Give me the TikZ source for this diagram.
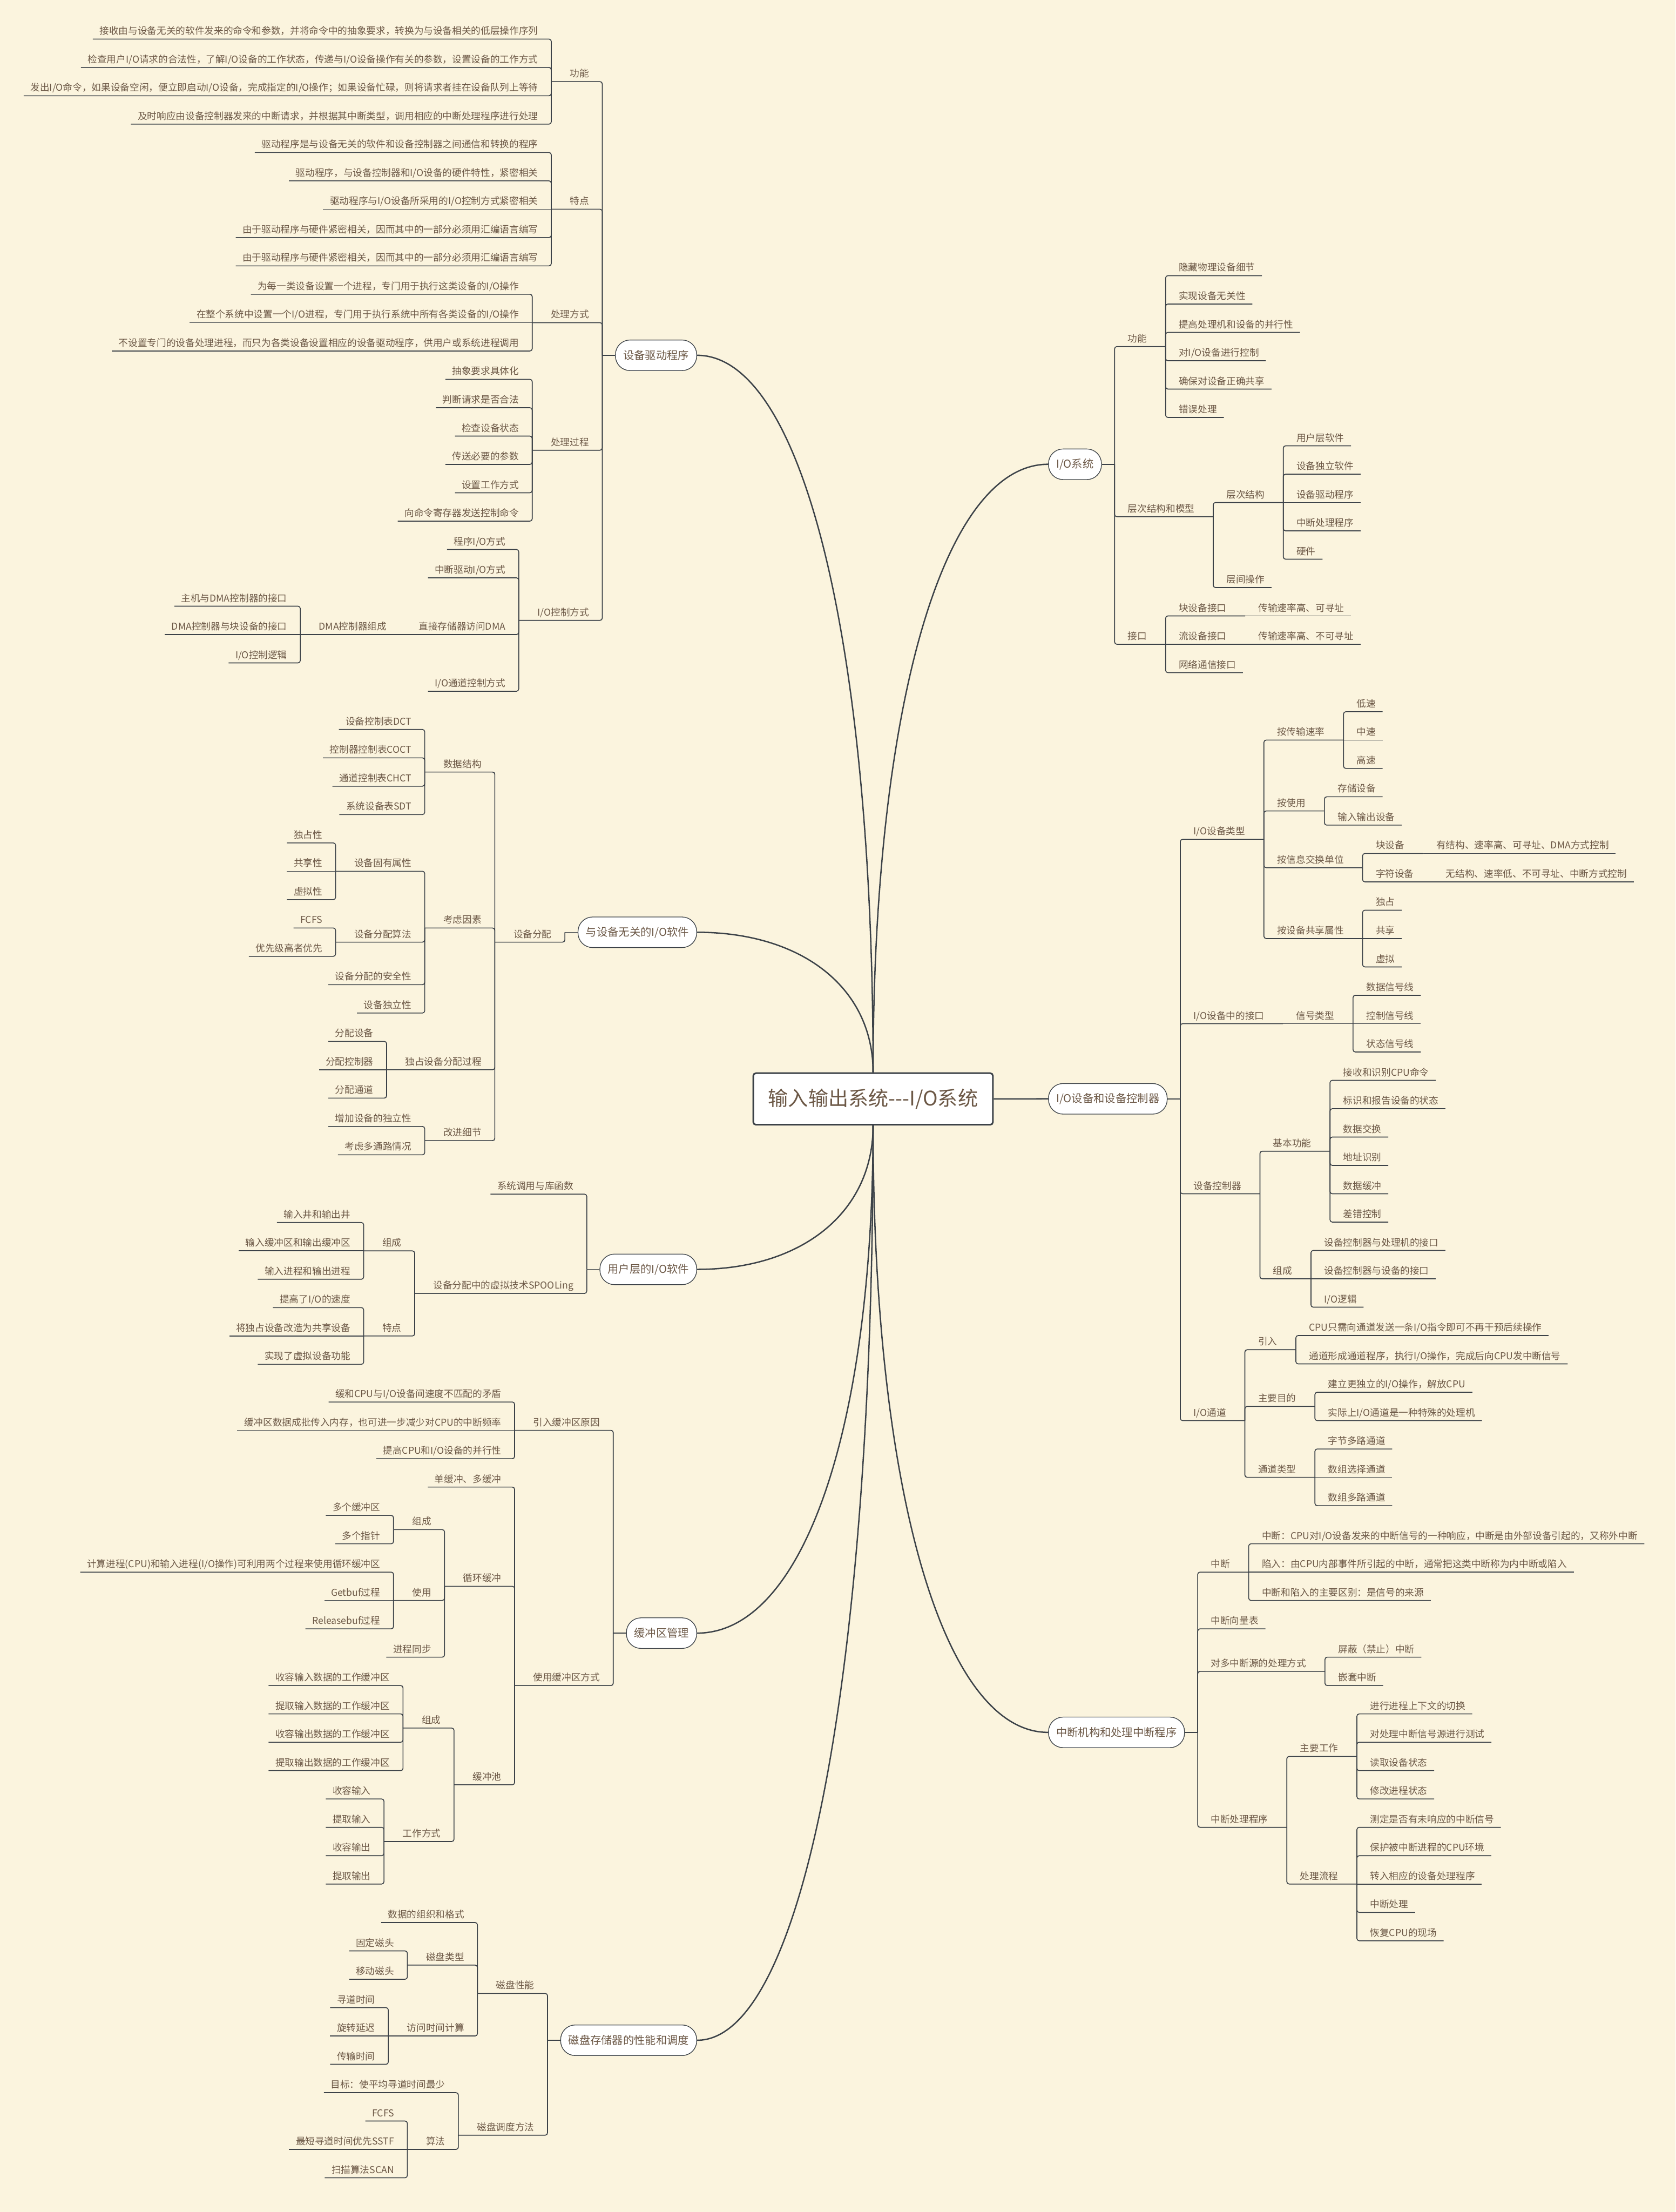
\documentclass[tikz,border=0pt]{standalone}
\usepackage{fontspec}
\setmainfont{Noto Sans CJK SC}
\usepackage{tikz}
\usetikzlibrary{calc}
\usetikzlibrary{positioning}

\definecolor{paper}{RGB}{251,244,222}
\definecolor{inkbrown}{RGB}{108,88,70}
\definecolor{slate}{RGB}{60,66,72}

\newcommand{\leaffont}{\fontsize{5.94}{7}\selectfont}
\newcommand{\branchfont}{\fontsize{6.83}{8}\selectfont}
\newcommand{\rootfont}{\fontsize{12.5}{14}\selectfont}

\begin{document}
\begin{tikzpicture}[
    x=0.0309cm, y=-0.0309cm,
    topic/.style={font=\leaffont, text=inkbrown, inner ysep=0pt, outer sep=0pt, text height=0.17cm, text depth=0.1cm},
    rleaf/.style={topic, inner xsep=0.15cm, anchor=south west, xshift=0.14cm},
    rpar/.style={topic, inner xsep=0.41cm, anchor=south west, xshift=-0.12cm},
    lleaf/.style={topic, inner xsep=0.15cm, anchor=south east, xshift=-0.14cm},
    lpar/.style={topic, inner xsep=0.41cm, anchor=south east, xshift=0.12cm},
    branch/.style={draw=slate, line width=0.45pt, fill=white, rounded corners=0.32cm, minimum height=0.67cm, inner xsep=0.17cm, inner ysep=0pt, font=\branchfont, text=inkbrown},
    root/.style={draw=slate, line width=1pt, fill=white, rounded corners=0.06cm, minimum width=5.25cm, minimum height=1.13cm, font=\rootfont, text=inkbrown},
    conn/.style={slate, line width=0.55pt, rounded corners=0.05cm},
    curve/.style={slate, line width=0.85pt}
]
    \fill[paper] (0,0) rectangle (1188,1568);
    \useasboundingbox (0,0) rectangle (1188,1568);

    % --- Root ---
    \node[root] (io) at (619,779) {输入输出系统-{}-{}-I/O系统};

    % --- Main topics ---
    \node[branch, anchor=east] (drv) at (494.2,251.85)  {设备驱动程序};
    \node[branch, anchor=east] (ind) at (494.2,660.85)  {与设备无关的I/O软件};
    \node[branch, anchor=east] (usr) at (494.2,899.8)   {用户层的I/O软件};
    \node[branch, anchor=east] (buf) at (494.2,1157.65) {缓冲区管理};
    \node[branch, anchor=east] (dsk) at (494.2,1446.25) {磁盘存储器的性能和调度};
    \node[branch, anchor=west] (sys) at (743.1,329.1)   {I/O系统};
    \node[branch, anchor=west] (dev) at (743.1,778.9)   {I/O设备和设备控制器};
    \node[branch, anchor=west] (irq) at (743.1,1228)    {中断机构和处理中断程序};

    \foreach \b in {drv, ind}
        \draw[curve] (io.north) .. controls ($(io.north)!0.6!(io.north |- \b.east)$) and ($(\b.east)!0.6!(io.north |- \b.east)$) .. (\b.east);
    \foreach \b in {usr, buf, dsk}
        \draw[curve] (io.south) .. controls ($(io.south)!0.6!(io.south |- \b.east)$) and ($(\b.east)!0.6!(io.south |- \b.east)$) .. (\b.east);
    \draw[curve] (io.north) .. controls ($(io.north)!0.6!(io.north |- sys.west)$) and ($(sys.west)!0.6!(io.north |- sys.west)$) .. (sys.west);
    \draw[curve] (io.south) .. controls ($(io.south)!0.6!(io.south |- irq.west)$) and ($(irq.west)!0.6!(io.south |- irq.west)$) .. (irq.west);
    \draw[curve] (io.east) -- (dev.west);

    % spines next to the main topics
    \foreach \b in {drv, ind, usr, buf, dsk}
        \coordinate (\b S) at ([xshift=-0.28cm]\b.west);
    \foreach \b in {sys, dev, irq}
        \coordinate (\b S) at ([xshift=0.28cm]\b.east);

    % --- 设备驱动程序 ---
    \node[lpar]  (drvGn)  at (drvS |- 0,57.85) {功能};
    \node[lleaf] (drvGn1) at (drvGn.south west |- 0,27.7) {接收由与设备无关的软件发来的命令和参数，并将命令中的抽象要求，转换为与设备相关的低层操作序列};
    \node[lleaf] (drvGn2) at (drvGn.south west |- 0,47.8) {检查用户I/O请求的合法性，了解I/O设备的工作状态，传递与I/O设备操作有关的参数，设置设备的工作方式};
    \node[lleaf] (drvGn3) at (drvGn.south west |- 0,67.9) {发出I/O命令，如果设备空闲，便立即启动I/O设备，完成指定的I/O操作；如果设备忙碌，则将请求者挂在设备队列上等待};
    \node[lleaf] (drvGn4) at (drvGn.south west |- 0,88.0) {及时响应由设备控制器发来的中断请求，并根据其中断类型，调用相应的中断处理程序进行处理};

    \node[lpar]  (drvTd)  at (drvS |- 0,148.3) {特点};
    \node[lleaf] (drvTd1) at (drvTd.south west |- 0,108.1) {驱动程序是与设备无关的软件和设备控制器之间通信和转换的程序};
    \node[lleaf] (drvTd2) at (drvTd.south west |- 0,128.2) {驱动程序，与设备控制器和I/O设备的硬件特性，紧密相关};
    \node[lleaf] (drvTd3) at (drvTd.south west |- 0,148.3) {驱动程序与I/O设备所采用的I/O控制方式紧密相关};
    \node[lleaf] (drvTd4) at (drvTd.south west |- 0,168.4) {由于驱动程序与硬件紧密相关，因而其中的一部分必须用汇编语言编写};
    \node[lleaf] (drvTd5) at (drvTd.south west |- 0,188.5) {由于驱动程序与硬件紧密相关，因而其中的一部分必须用汇编语言编写};

    \node[lpar]  (drvFs)  at (drvS |- 0,228.7) {处理方式};
    \node[lleaf] (drvFs1) at (drvFs.south west |- 0,208.6) {为每一类设备设置一个进程，专门用于执行这类设备的I/O操作};
    \node[lleaf] (drvFs2) at (drvFs.south west |- 0,228.7) {在整个系统中设置一个I/O进程，专门用于执行系统中所有各类设备的I/O操作};
    \node[lleaf] (drvFs3) at (drvFs.south west |- 0,248.8) {不设置专门的设备处理进程，而只为各类设备设置相应的设备驱动程序，供用户或系统进程调用};

    \node[lpar]  (drvGc)  at (drvS |- 0,319.15) {处理过程};
    \node[lleaf] (drvGc1) at (drvGc.south west |- 0,268.9) {抽象要求具体化};
    \node[lleaf] (drvGc2) at (drvGc.south west |- 0,289.0) {判断请求是否合法};
    \node[lleaf] (drvGc3) at (drvGc.south west |- 0,309.1) {检查设备状态};
    \node[lleaf] (drvGc4) at (drvGc.south west |- 0,329.2) {传送必要的参数};
    \node[lleaf] (drvGc5) at (drvGc.south west |- 0,349.3) {设置工作方式};
    \node[lleaf] (drvGc6) at (drvGc.south west |- 0,369.4) {向命令寄存器发送控制命令};

    \node[lpar]  (drvKz)  at (drvS |- 0,439.75) {I/O控制方式};
    \node[lleaf] (drvKz1) at (drvKz.south west |- 0,389.5) {程序I/O方式};
    \node[lleaf] (drvKz2) at (drvKz.south west |- 0,409.6) {中断驱动I/O方式};
    \node[lpar]  (drvKz3) at (drvKz.south west |- 0,449.8) {直接存储器访问DMA};
    \node[lleaf] (drvKz4) at (drvKz.south west |- 0,490.0) {I/O通道控制方式};
    \node[lpar]  (drvDma)  at (drvKz3.south west |- 0,449.8) {DMA控制器组成};
    \node[lleaf] (drvDma1) at (drvDma.south west |- 0,429.7) {主机与DMA控制器的接口};
    \node[lleaf] (drvDma2) at (drvDma.south west |- 0,449.8) {DMA控制器与块设备的接口};
    \node[lleaf] (drvDma3) at (drvDma.south west |- 0,469.9) {I/O控制逻辑};

    \draw[conn] (drv.west) -- (drvS);
    \foreach \c in {drvGn, drvTd, drvFs, drvGc, drvKz}
        \draw[conn] (drvS) |- (\c.south west);
    \foreach \i in {1,...,4}
        \draw[conn] (drvGn.south west) |- (drvGn\i.south west);
    \foreach \i in {1,2,4,5}
        \draw[conn] (drvTd.south west) |- (drvTd\i.south west);
    \draw[conn] (drvTd.south west) -- (drvTd3.south west);
    \foreach \i in {1,3}
        \draw[conn] (drvFs.south west) |- (drvFs\i.south west);
    \draw[conn] (drvFs.south west) -- (drvFs2.south west);
    \foreach \i in {1,...,6}
        \draw[conn] (drvGc.south west) |- (drvGc\i.south west);
    \foreach \i in {1,...,4}
        \draw[conn] (drvKz.south west) |- (drvKz\i.south west);
    \draw[conn] (drvKz3.south west) -- (drvDma.south west);
    \foreach \i in {1,3}
        \draw[conn] (drvDma.south west) |- (drvDma\i.south west);
    \draw[conn] (drvDma.south west) -- (drvDma2.south west);

    % --- 与设备无关的I/O软件 ---
    \node[lpar]  (indFp)  at (indS |- 0,667.85) {设备分配};
    \node[lpar]  (indSj)  at (indFp.south west |- 0,547.25) {数据结构};
    \node[lleaf] (indSj1) at (indSj.south west |- 0,517.1) {设备控制表DCT};
    \node[lleaf] (indSj2) at (indSj.south west |- 0,537.2) {控制器控制表COCT};
    \node[lleaf] (indSj3) at (indSj.south west |- 0,557.3) {通道控制表CHCT};
    \node[lleaf] (indSj4) at (indSj.south west |- 0,577.4) {系统设备表SDT};
    \node[lpar]  (indKs)  at (indFp.south west |- 0,657.8) {考虑因素};
    \node[lpar]  (indSx)  at (indKs.south west |- 0,617.6) {设备固有属性};
    \node[lleaf] (indSx1) at (indSx.south west |- 0,597.5) {独占性};
    \node[lleaf] (indSx2) at (indSx.south west |- 0,617.6) {共享性};
    \node[lleaf] (indSx3) at (indSx.south west |- 0,637.7) {虚拟性};
    \node[lpar]  (indSf)  at (indKs.south west |- 0,667.85) {设备分配算法};
    \node[lleaf] (indSf1) at (indSf.south west |- 0,657.8) {FCFS};
    \node[lleaf] (indSf2) at (indSf.south west |- 0,677.9) {优先级高者优先};
    \node[lleaf] (indAq)  at (indKs.south west |- 0,698.0) {设备分配的安全性};
    \node[lleaf] (indDl)  at (indKs.south west |- 0,718.1) {设备独立性};
    \node[lpar]  (indGc)  at (indFp.south west |- 0,758.3) {独占设备分配过程};
    \node[lleaf] (indGc1) at (indGc.south west |- 0,738.2) {分配设备};
    \node[lleaf] (indGc2) at (indGc.south west |- 0,758.3) {分配控制器};
    \node[lleaf] (indGc3) at (indGc.south west |- 0,778.4) {分配通道};
    \node[lpar]  (indGj)  at (indFp.south west |- 0,808.55) {改进细节};
    \node[lleaf] (indGj1) at (indGj.south west |- 0,798.5) {增加设备的独立性};
    \node[lleaf] (indGj2) at (indGj.south west |- 0,818.6) {考虑多通路情况};

    \draw[conn] (ind.west) -- (indS);
    \draw[conn] (indS) |- (indFp.south west);
    \foreach \c in {indSj, indKs, indGc, indGj}
        \draw[conn] (indFp.south west) |- (\c.south west);
    \foreach \i in {1,...,4}
        \draw[conn] (indSj.south west) |- (indSj\i.south west);
    \foreach \c in {indSx, indSf, indAq, indDl}
        \draw[conn] (indKs.south west) |- (\c.south west);
    \foreach \i in {1,3}
        \draw[conn] (indSx.south west) |- (indSx\i.south west);
    \draw[conn] (indSx.south west) -- (indSx2.south west);
    \foreach \i in {1,2}
        \draw[conn] (indSf.south west) |- (indSf\i.south west);
    \foreach \i in {1,3}
        \draw[conn] (indGc.south west) |- (indGc\i.south west);
    \draw[conn] (indGc.south west) -- (indGc2.south west);
    \foreach \i in {1,2}
        \draw[conn] (indGj.south west) |- (indGj\i.south west);

    % --- 用户层的I/O软件 ---
    \node[lleaf] (usrDy)  at (usrS |- 0,846.5) {系统调用与库函数};
    \node[lpar]  (usrSp)  at (usrS |- 0,916.85) {设备分配中的虚拟技术SPOOLing};
    \node[lpar]  (usrZc)  at (usrSp.south west |- 0,886.7) {组成};
    \node[lleaf] (usrZc1) at (usrZc.south west |- 0,866.6) {输入井和输出井};
    \node[lleaf] (usrZc2) at (usrZc.south west |- 0,886.7) {输入缓冲区和输出缓冲区};
    \node[lleaf] (usrZc3) at (usrZc.south west |- 0,906.8) {输入进程和输出进程};
    \node[lpar]  (usrTd)  at (usrSp.south west |- 0,947.0) {特点};
    \node[lleaf] (usrTd1) at (usrTd.south west |- 0,926.9) {提高了I/O的速度};
    \node[lleaf] (usrTd2) at (usrTd.south west |- 0,947.0) {将独占设备改造为共享设备};
    \node[lleaf] (usrTd3) at (usrTd.south west |- 0,967.1) {实现了虚拟设备功能};

    \draw[conn] (usr.west) -- (usrS);
    \foreach \c in {usrDy, usrSp}
        \draw[conn] (usrS) |- (\c.south west);
    \foreach \c in {usrZc, usrTd}
        \draw[conn] (usrSp.south west) |- (\c.south west);
    \foreach \i in {1,3}
        \draw[conn] (usrZc.south west) |- (usrZc\i.south west);
    \draw[conn] (usrZc.south west) -- (usrZc2.south west);
    \foreach \i in {1,3}
        \draw[conn] (usrTd.south west) |- (usrTd\i.south west);
    \draw[conn] (usrTd.south west) -- (usrTd2.south west);

    % --- 缓冲区管理 ---
    \node[lpar]  (bufYy)  at (bufS |- 0,1013.9) {引入缓冲区原因};
    \node[lleaf] (bufYy1) at (bufYy.south west |- 0,993.8) {缓和CPU与I/O设备间速度不匹配的矛盾};
    \node[lleaf] (bufYy2) at (bufYy.south west |- 0,1013.9) {缓冲区数据成批传入内存，也可进一步减少对CPU的中断频率};
    \node[lleaf] (bufYy3) at (bufYy.south west |- 0,1034.0) {提高CPU和I/O设备的并行性};
    \node[lpar]  (bufFs)  at (bufS |- 0,1194.8) {使用缓冲区方式};
    \node[lleaf] (bufDd)  at (bufFs.south west |- 0,1054.1) {单缓冲、多缓冲};
    \node[lpar]  (bufXh)  at (bufFs.south west |- 0,1124.45) {循环缓冲};
    \node[lpar]  (bufXz)  at (bufXh.south west |- 0,1084.25) {组成};
    \node[lleaf] (bufXz1) at (bufXz.south west |- 0,1074.2) {多个缓冲区};
    \node[lleaf] (bufXz2) at (bufXz.south west |- 0,1094.3) {多个指针};
    \node[lpar]  (bufXs)  at (bufXh.south west |- 0,1134.5) {使用};
    \node[lleaf] (bufXs1) at (bufXs.south west |- 0,1114.4) {计算进程(CPU)和输入进程(I/O操作)可利用两个过程来使用循环缓冲区};
    \node[lleaf] (bufXs2) at (bufXs.south west |- 0,1134.5) {Getbuf过程};
    \node[lleaf] (bufXs3) at (bufXs.south west |- 0,1154.6) {Releasebuf过程};
    \node[lleaf] (bufXt)  at (bufXh.south west |- 0,1174.7) {进程同步};
    \node[lpar]  (bufHc)  at (bufFs.south west |- 0,1265.15) {缓冲池};
    \node[lpar]  (bufHz)  at (bufHc.south west |- 0,1224.95) {组成};
    \node[lleaf] (bufHz1) at (bufHz.south west |- 0,1194.8) {收容输入数据的工作缓冲区};
    \node[lleaf] (bufHz2) at (bufHz.south west |- 0,1214.9) {提取输入数据的工作缓冲区};
    \node[lleaf] (bufHz3) at (bufHz.south west |- 0,1235.0) {收容输出数据的工作缓冲区};
    \node[lleaf] (bufHz4) at (bufHz.south west |- 0,1255.1) {提取输出数据的工作缓冲区};
    \node[lpar]  (bufHf)  at (bufHc.south west |- 0,1305.35) {工作方式};
    \node[lleaf] (bufHf1) at (bufHf.south west |- 0,1275.2) {收容输入};
    \node[lleaf] (bufHf2) at (bufHf.south west |- 0,1295.3) {提取输入};
    \node[lleaf] (bufHf3) at (bufHf.south west |- 0,1315.4) {收容输出};
    \node[lleaf] (bufHf4) at (bufHf.south west |- 0,1335.5) {提取输出};

    \draw[conn] (buf.west) -- (bufS);
    \foreach \c in {bufYy, bufFs}
        \draw[conn] (bufS) |- (\c.south west);
    \foreach \i in {1,3}
        \draw[conn] (bufYy.south west) |- (bufYy\i.south west);
    \draw[conn] (bufYy.south west) -- (bufYy2.south west);
    \foreach \c in {bufDd, bufXh, bufHc}
        \draw[conn] (bufFs.south west) |- (\c.south west);
    \foreach \c in {bufXz, bufXs, bufXt}
        \draw[conn] (bufXh.south west) |- (\c.south west);
    \foreach \i in {1,2}
        \draw[conn] (bufXz.south west) |- (bufXz\i.south west);
    \foreach \i in {1,3}
        \draw[conn] (bufXs.south west) |- (bufXs\i.south west);
    \draw[conn] (bufXs.south west) -- (bufXs2.south west);
    \foreach \c in {bufHz, bufHf}
        \draw[conn] (bufHc.south west) |- (\c.south west);
    \foreach \i in {1,...,4}
        \draw[conn] (bufHz.south west) |- (bufHz\i.south west);
    \foreach \i in {1,...,4}
        \draw[conn] (bufHf.south west) |- (bufHf\i.south west);

    % --- 磁盘存储器的性能和调度 ---
    \node[lpar]  (dskXn)  at (dskS |- 0,1413.05) {磁盘性能};
    \node[lleaf] (dskZz)  at (dskXn.south west |- 0,1362.8) {数据的组织和格式};
    \node[lpar]  (dskLx)  at (dskXn.south west |- 0,1392.95) {磁盘类型};
    \node[lleaf] (dskLx1) at (dskLx.south west |- 0,1382.9) {固定磁头};
    \node[lleaf] (dskLx2) at (dskLx.south west |- 0,1403.0) {移动磁头};
    \node[lpar]  (dskSj)  at (dskXn.south west |- 0,1443.2) {访问时间计算};
    \node[lleaf] (dskSj1) at (dskSj.south west |- 0,1423.1) {寻道时间};
    \node[lleaf] (dskSj2) at (dskSj.south west |- 0,1443.2) {旋转延迟};
    \node[lleaf] (dskSj3) at (dskSj.south west |- 0,1463.3) {传输时间};
    \node[lpar]  (dskDd)  at (dskS |- 0,1513.55) {磁盘调度方法};
    \node[lleaf] (dskMb)  at (dskDd.south west |- 0,1483.4) {目标：使平均寻道时间最少};
    \node[lpar]  (dskSf)  at (dskDd.south west |- 0,1523.6) {算法};
    \node[lleaf] (dskSf1) at (dskSf.south west |- 0,1503.5) {FCFS};
    \node[lleaf] (dskSf2) at (dskSf.south west |- 0,1523.6) {最短寻道时间优先SSTF};
    \node[lleaf] (dskSf3) at (dskSf.south west |- 0,1543.7) {扫描算法SCAN};

    \draw[conn] (dsk.west) -- (dskS);
    \foreach \c in {dskXn, dskDd}
        \draw[conn] (dskS) |- (\c.south west);
    \foreach \c in {dskZz, dskLx, dskSj}
        \draw[conn] (dskXn.south west) |- (\c.south west);
    \foreach \i in {1,2}
        \draw[conn] (dskLx.south west) |- (dskLx\i.south west);
    \foreach \i in {1,3}
        \draw[conn] (dskSj.south west) |- (dskSj\i.south west);
    \draw[conn] (dskSj.south west) -- (dskSj2.south west);
    \foreach \c in {dskMb, dskSf}
        \draw[conn] (dskDd.south west) |- (\c.south west);
    \foreach \i in {1,3}
        \draw[conn] (dskSf.south west) |- (dskSf\i.south west);
    \draw[conn] (dskSf.south west) -- (dskSf2.south west);

    % --- I/O系统 ---
    \node[rpar]  (sysGn)  at (sysS |- 0,245.65) {功能};
    \node[rleaf] (sysGn1) at (sysGn.south east |- 0,195.4) {隐藏物理设备细节};
    \node[rleaf] (sysGn2) at (sysGn.south east |- 0,215.5) {实现设备无关性};
    \node[rleaf] (sysGn3) at (sysGn.south east |- 0,235.6) {提高处理机和设备的并行性};
    \node[rleaf] (sysGn4) at (sysGn.south east |- 0,255.7) {对I/O设备进行控制};
    \node[rleaf] (sysGn5) at (sysGn.south east |- 0,275.8) {确保对设备正确共享};
    \node[rleaf] (sysGn6) at (sysGn.south east |- 0,295.9) {错误处理};
    \node[rpar]  (sysCc)  at (sysS |- 0,366.25) {层次结构和模型};
    \node[rpar]  (sysJg)  at (sysCc.south east |- 0,356.2) {层次结构};
    \node[rleaf] (sysJg1) at (sysJg.south east |- 0,316.0) {用户层软件};
    \node[rleaf] (sysJg2) at (sysJg.south east |- 0,336.1) {设备独立软件};
    \node[rleaf] (sysJg3) at (sysJg.south east |- 0,356.2) {设备驱动程序};
    \node[rleaf] (sysJg4) at (sysJg.south east |- 0,376.3) {中断处理程序};
    \node[rleaf] (sysJg5) at (sysJg.south east |- 0,396.4) {硬件};
    \node[rleaf] (sysCj)  at (sysCc.south east |- 0,416.5) {层间操作};
    \node[rpar]  (sysJk)  at (sysS |- 0,456.7) {接口};
    \node[rpar]  (sysJk1) at (sysJk.south east |- 0,436.6) {块设备接口};
    \node[rleaf] (sysJk1a) at (sysJk1.south east |- 0,436.6) {传输速率高、可寻址};
    \node[rpar]  (sysJk2) at (sysJk.south east |- 0,456.7) {流设备接口};
    \node[rleaf] (sysJk2a) at (sysJk2.south east |- 0,456.7) {传输速率高、不可寻址};
    \node[rleaf] (sysJk3) at (sysJk.south east |- 0,476.8) {网络通信接口};

    \draw[conn] (sys.east) -- (sysS);
    \foreach \c in {sysGn, sysCc, sysJk}
        \draw[conn] (sysS) |- (\c.south east);
    \foreach \i in {1,...,6}
        \draw[conn] (sysGn.south east) |- (sysGn\i.south east);
    \foreach \c in {sysJg, sysCj}
        \draw[conn] (sysCc.south east) |- (\c.south east);
    \foreach \i in {1,2,4,5}
        \draw[conn] (sysJg.south east) |- (sysJg\i.south east);
    \draw[conn] (sysJg.south east) -- (sysJg3.south east);
    \foreach \i in {1,3}
        \draw[conn] (sysJk.south east) |- (sysJk\i.south east);
    \draw[conn] (sysJk.south east) -- (sysJk2.south east);
    \draw[conn] (sysJk1.south east) -- (sysJk1a.south east);
    \draw[conn] (sysJk2.south east) -- (sysJk2a.south east);

    % --- I/O设备和设备控制器 ---
    \node[rpar]  (devLx)  at (devS |- 0,594.95) {I/O设备类型};
    \node[rpar]  (devSl)  at (devLx.south east |- 0,524.6) {按传输速率};
    \node[rleaf] (devSl1) at (devSl.south east |- 0,504.5) {低速};
    \node[rleaf] (devSl2) at (devSl.south east |- 0,524.6) {中速};
    \node[rleaf] (devSl3) at (devSl.south east |- 0,544.7) {高速};
    \node[rpar]  (devSy)  at (devLx.south east |- 0,574.85) {按使用};
    \node[rleaf] (devSy1) at (devSy.south east |- 0,564.8) {存储设备};
    \node[rleaf] (devSy2) at (devSy.south east |- 0,584.9) {输入输出设备};
    \node[rpar]  (devDw)  at (devLx.south east |- 0,615.05) {按信息交换单位};
    \node[rpar]  (devKd)  at (devDw.south east |- 0,605.0) {块设备};
    \node[rleaf] (devKd1) at (devKd.south east |- 0,605.0) {有结构、速率高、可寻址、DMA方式控制};
    \node[rpar]  (devZf)  at (devDw.south east |- 0,625.1) {字符设备};
    \node[rleaf] (devZf1) at (devZf.south east |- 0,625.1) {无结构、速率低、不可寻址、中断方式控制};
    \node[rpar]  (devGx)  at (devLx.south east |- 0,665.3) {按设备共享属性};
    \node[rleaf] (devGx1) at (devGx.south east |- 0,645.2) {独占};
    \node[rleaf] (devGx2) at (devGx.south east |- 0,665.3) {共享};
    \node[rleaf] (devGx3) at (devGx.south east |- 0,685.4) {虚拟};
    \node[rpar]  (devJk)  at (devS |- 0,725.6) {I/O设备中的接口};
    \node[rpar]  (devXh)  at (devJk.south east |- 0,725.6) {信号类型};
    \node[rleaf] (devXh1) at (devXh.south east |- 0,705.5) {数据信号线};
    \node[rleaf] (devXh2) at (devXh.south east |- 0,725.6) {控制信号线};
    \node[rleaf] (devXh3) at (devXh.south east |- 0,745.7) {状态信号线};
    \node[rpar]  (devKz)  at (devS |- 0,846.2) {设备控制器};
    \node[rpar]  (devGn)  at (devKz.south east |- 0,816.05) {基本功能};
    \node[rleaf] (devGn1) at (devGn.south east |- 0,765.8) {接收和识别CPU命令};
    \node[rleaf] (devGn2) at (devGn.south east |- 0,785.9) {标识和报告设备的状态};
    \node[rleaf] (devGn3) at (devGn.south east |- 0,806.0) {数据交换};
    \node[rleaf] (devGn4) at (devGn.south east |- 0,826.1) {地址识别};
    \node[rleaf] (devGn5) at (devGn.south east |- 0,846.2) {数据缓冲};
    \node[rleaf] (devGn6) at (devGn.south east |- 0,866.3) {差错控制};
    \node[rpar]  (devZc)  at (devKz.south east |- 0,906.5) {组成};
    \node[rleaf] (devZc1) at (devZc.south east |- 0,886.4) {设备控制器与处理机的接口};
    \node[rleaf] (devZc2) at (devZc.south east |- 0,906.5) {设备控制器与设备的接口};
    \node[rleaf] (devZc3) at (devZc.south east |- 0,926.6) {I/O逻辑};
    \node[rpar]  (devTd)  at (devS |- 0,1007.0) {I/O通道};
    \node[rpar]  (devYr)  at (devTd.south east |- 0,956.75) {引入};
    \node[rleaf] (devYr1) at (devYr.south east |- 0,946.7) {CPU只需向通道发送一条I/O指令即可不再干预后续操作};
    \node[rleaf] (devYr2) at (devYr.south east |- 0,966.8) {通道形成通道程序，执行I/O操作，完成后向CPU发中断信号};
    \node[rpar]  (devMd)  at (devTd.south east |- 0,996.95) {主要目的};
    \node[rleaf] (devMd1) at (devMd.south east |- 0,986.9) {建立更独立的I/O操作，解放CPU};
    \node[rleaf] (devMd2) at (devMd.south east |- 0,1007.0) {实际上I/O通道是一种特殊的处理机};
    \node[rpar]  (devTl)  at (devTd.south east |- 0,1047.2) {通道类型};
    \node[rleaf] (devTl1) at (devTl.south east |- 0,1027.1) {字节多路通道};
    \node[rleaf] (devTl2) at (devTl.south east |- 0,1047.2) {数组选择通道};
    \node[rleaf] (devTl3) at (devTl.south east |- 0,1067.3) {数组多路通道};

    \draw[conn] (dev.east) -- (devS);
    \foreach \c in {devLx, devJk, devKz, devTd}
        \draw[conn] (devS) |- (\c.south east);
    \foreach \c in {devSl, devSy, devDw, devGx}
        \draw[conn] (devLx.south east) |- (\c.south east);
    \foreach \i in {1,3}
        \draw[conn] (devSl.south east) |- (devSl\i.south east);
    \draw[conn] (devSl.south east) -- (devSl2.south east);
    \foreach \i in {1,2}
        \draw[conn] (devSy.south east) |- (devSy\i.south east);
    \foreach \c in {devKd, devZf}
        \draw[conn] (devDw.south east) |- (\c.south east);
    \draw[conn] (devKd.south east) -- (devKd1.south east);
    \draw[conn] (devZf.south east) -- (devZf1.south east);
    \foreach \i in {1,3}
        \draw[conn] (devGx.south east) |- (devGx\i.south east);
    \draw[conn] (devGx.south east) -- (devGx2.south east);
    \draw[conn] (devJk.south east) -- (devXh.south east);
    \foreach \i in {1,3}
        \draw[conn] (devXh.south east) |- (devXh\i.south east);
    \draw[conn] (devXh.south east) -- (devXh2.south east);
    \foreach \c in {devGn, devZc}
        \draw[conn] (devKz.south east) |- (\c.south east);
    \foreach \i in {1,...,6}
        \draw[conn] (devGn.south east) |- (devGn\i.south east);
    \foreach \i in {1,3}
        \draw[conn] (devZc.south east) |- (devZc\i.south east);
    \draw[conn] (devZc.south east) -- (devZc2.south east);
    \foreach \c in {devYr, devMd, devTl}
        \draw[conn] (devTd.south east) |- (\c.south east);
    \foreach \i in {1,2}
        \draw[conn] (devYr.south east) |- (devYr\i.south east);
    \foreach \i in {1,2}
        \draw[conn] (devMd.south east) |- (devMd\i.south east);
    \foreach \i in {1,3}
        \draw[conn] (devTl.south east) |- (devTl\i.south east);
    \draw[conn] (devTl.south east) -- (devTl2.south east);

    % --- 中断机构和处理中断程序 ---
    \node[rpar]  (irqZd)  at (irqS |- 0,1114.4) {中断};
    \node[rleaf] (irqZd1) at (irqZd.south east |- 0,1094.3) {中断：CPU对I/O设备发来的中断信号的一种响应，中断是由外部设备引起的，又称外中断};
    \node[rleaf] (irqZd2) at (irqZd.south east |- 0,1114.4) {陷入：由CPU内部事件所引起的中断，通常把这类中断称为内中断或陷入};
    \node[rleaf] (irqZd3) at (irqZd.south east |- 0,1134.5) {中断和陷入的主要区别：是信号的来源};
    \node[rleaf] (irqXl)  at (irqS |- 0,1154.6) {中断向量表};
    \node[rpar]  (irqDz)  at (irqS |- 0,1184.75) {对多中断源的处理方式};
    \node[rleaf] (irqDz1) at (irqDz.south east |- 0,1174.7) {屏蔽（禁止）中断};
    \node[rleaf] (irqDz2) at (irqDz.south east |- 0,1194.8) {嵌套中断};
    \node[rpar]  (irqCl)  at (irqS |- 0,1295.3) {中断处理程序};
    \node[rpar]  (irqGz)  at (irqCl.south east |- 0,1245.05) {主要工作};
    \node[rleaf] (irqGz1) at (irqGz.south east |- 0,1214.9) {进行进程上下文的切换};
    \node[rleaf] (irqGz2) at (irqGz.south east |- 0,1235.0) {对处理中断信号源进行测试};
    \node[rleaf] (irqGz3) at (irqGz.south east |- 0,1255.1) {读取设备状态};
    \node[rleaf] (irqGz4) at (irqGz.south east |- 0,1275.2) {修改进程状态};
    \node[rpar]  (irqLc)  at (irqCl.south east |- 0,1335.5) {处理流程};
    \node[rleaf] (irqLc1) at (irqLc.south east |- 0,1295.3) {测定是否有未响应的中断信号};
    \node[rleaf] (irqLc2) at (irqLc.south east |- 0,1315.4) {保护被中断进程的CPU环境};
    \node[rleaf] (irqLc3) at (irqLc.south east |- 0,1335.5) {转入相应的设备处理程序};
    \node[rleaf] (irqLc4) at (irqLc.south east |- 0,1355.6) {中断处理};
    \node[rleaf] (irqLc5) at (irqLc.south east |- 0,1375.7) {恢复CPU的现场};

    \draw[conn] (irq.east) -- (irqS);
    \foreach \c in {irqZd, irqXl, irqDz, irqCl}
        \draw[conn] (irqS) |- (\c.south east);
    \foreach \i in {1,3}
        \draw[conn] (irqZd.south east) |- (irqZd\i.south east);
    \draw[conn] (irqZd.south east) -- (irqZd2.south east);
    \foreach \i in {1,2}
        \draw[conn] (irqDz.south east) |- (irqDz\i.south east);
    \foreach \c in {irqGz, irqLc}
        \draw[conn] (irqCl.south east) |- (\c.south east);
    \foreach \i in {1,...,4}
        \draw[conn] (irqGz.south east) |- (irqGz\i.south east);
    \foreach \i in {1,2,4,5}
        \draw[conn] (irqLc.south east) |- (irqLc\i.south east);
    \draw[conn] (irqLc.south east) -- (irqLc3.south east);

\end{tikzpicture}
\end{document}
